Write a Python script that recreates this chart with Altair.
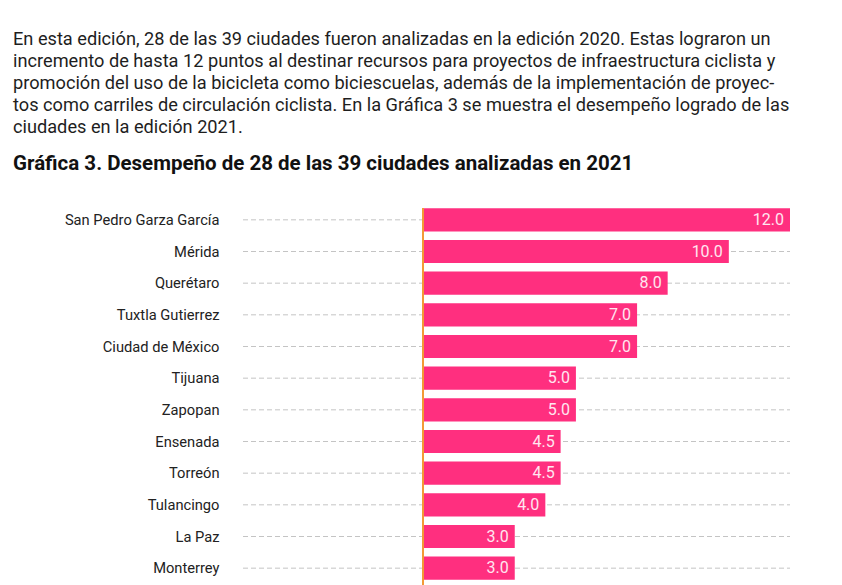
import altair as alt
import pandas as pd

# Cities shown in the chart (top to bottom) and their scores
ciudades = [
    "San Pedro Garza García", "Mérida", "Querétaro", "Tuxtla Gutierrez",
    "Ciudad de México", "Tijuana", "Zapopan", "Ensenada", "Torreón",
    "Tulancingo", "La Paz", "Monterrey",
]
puntos = [12.0, 10.0, 8.0, 7.0, 7.0, 5.0, 5.0, 4.5, 4.5, 4.0, 3.0, 3.0]

parrafo = [
    "En esta edición, 28 de las 39 ciudades fueron analizadas en la edición 2020. Estas lograron un",
    "incremento de hasta 12 puntos al destinar recursos para proyectos de infraestructura ciclista y",
    "promoción del uso de la bicicleta como biciescuelas, además de la implementación de proyec-",
    "tos como carriles de circulación ciclista. En la Gráfica 3 se muestra el desempeño logrado de las",
    "ciudades en la edición 2021.",
]
encabezado = "Gráfica 3. Desempeño de 28 de las 39 ciudades analizadas en 2021"

df = pd.DataFrame({"ciudad": ciudades, "puntos": puntos})
df["etiqueta"] = df["puntos"].map(lambda v: f"{v:.1f}")
base_cero = pd.DataFrame({"cero": [0.0]})

FONT = "Roboto"
W, H = 547, 380

escala_x = alt.Scale(domain=[0, 12], range=[180, W], nice=False, zero=True)
escala_y = alt.Scale(paddingInner=0.27, paddingOuter=0.135)

x = alt.X("puntos:Q", scale=escala_x, axis=None)
y = alt.Y(
    "ciudad:N",
    sort=ciudades,
    scale=escala_y,
    axis=alt.Axis(
        title=None, domain=False, ticks=False, grid=False, labelPadding=24,
        labelFont=FONT, labelFontSize=14.7, labelColor="#222222", labelLimit=300,
        labelOffset=1,
    ),
)

# dashed guide line across each row, full plot width
guias = alt.Chart(df).mark_rule(
    color="#c4c4c4", strokeWidth=1, strokeDash=[5, 3]
).encode(y=y, x=alt.value(0), x2=alt.value(W))

barras = alt.Chart(df).mark_bar(color="#ff2f7f").encode(x=x, y=y)

etiquetas = alt.Chart(df).mark_text(
    align="right", baseline="middle", dx=-6, font=FONT, fontSize=16,
    color="#ffe6f0",
).encode(x=x, y=y, text="etiqueta:N")

cero = alt.Chart(base_cero).mark_rule(color="#f39a36", strokeWidth=2).encode(
    x=alt.X("cero:Q", scale=escala_x, axis=None),
    y=alt.value(4),
    y2=alt.value(H + 5),
)

chart = (
    alt.layer(guias, barras, cero, etiquetas)
    .properties(
        width=W,
        height=H,
        padding={"left": 243, "top": 204, "right": 52, "bottom": 1},
        autosize=alt.AutoSizeParams(type="none"),
        background="white",
        title=alt.TitleParams(
            text=parrafo,
            subtitle=encabezado,
            anchor="start",
            frame="group",
            dx=-230,
            offset=29,
            font=FONT,
            fontSize=18.2,
            fontWeight="normal",
            color="#1e1e1e",
            lineHeight=22.2,
            subtitleFont=FONT,
            subtitleFontSize=20.5,
            subtitleFontWeight="bold",
            subtitleColor="#111111",
            subtitlePadding=16,
        ),
    )
    .configure_view(stroke=None)
)

chart.save("out.html", embed_options={"renderer": "svg", "actions": False})
